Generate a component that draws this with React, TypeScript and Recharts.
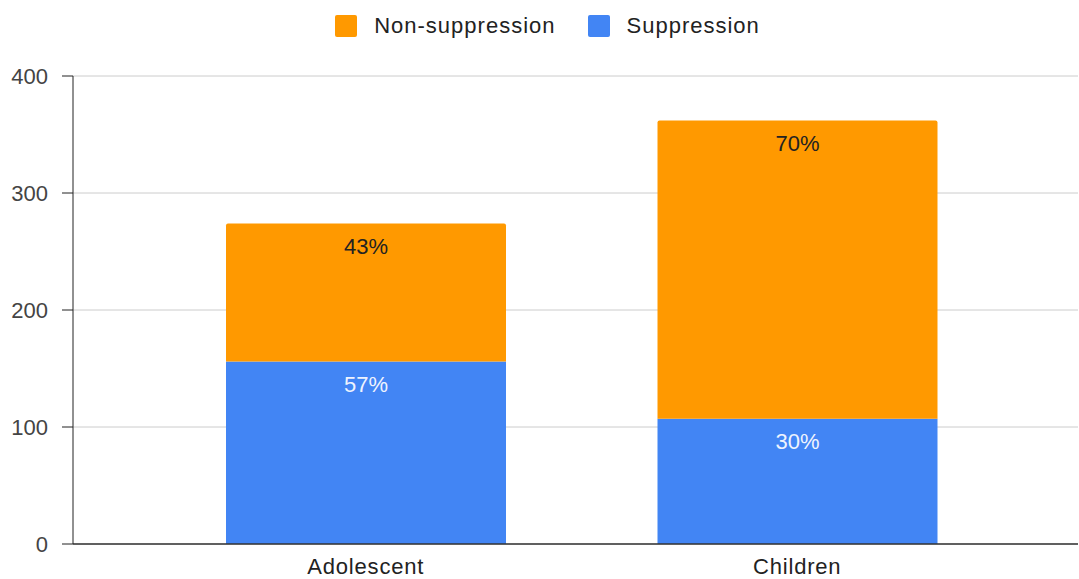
import { BarChart, Bar, XAxis, YAxis, CartesianGrid, Legend, LabelList } from "recharts";

// values
const groups = ["Adolescent", "Children"];
const suppression = [156, 107];
const nonSuppression = [118, 255];
const suppressionPct = ["57%", "30%"];
const nonSuppressionPct = ["43%", "70%"];
const yTicks = [0, 100, 200, 300, 400];

const COLORS = {
  suppression: "#4285f4",
  nonSuppression: "#ff9900",
};

const FONT = "'Liberation Sans', Arial, sans-serif";

const data = groups.map((g, i) => ({
  group: g,
  suppression: suppression[i],
  nonSuppression: nonSuppression[i],
  supLabel: suppressionPct[i],
  nonLabel: nonSuppressionPct[i],
}));

const legendItems = [
  { name: "Non-suppression", color: COLORS.nonSuppression },
  { name: "Suppression", color: COLORS.suppression },
];

function TopLegend() {
  return (
    <div style={{ height: 76, width: 1079 }}>
      <div
        style={{
          display: "flex",
          justifyContent: "center",
          alignItems: "center",
          paddingTop: 14,
          paddingLeft: 16,
          height: 24,
          fontFamily: FONT,
          fontSize: 22,
          letterSpacing: 1,
          color: "#222",
        }}
      >
        {legendItems.map((it, i) => (
          <div
            key={it.name}
            style={{ display: "flex", alignItems: "center", marginLeft: i ? 32 : 0 }}
          >
            <span
              style={{
                width: 22,
                height: 22,
                borderRadius: 2,
                background: it.color,
                marginRight: 17,
                display: "inline-block",
              }}
            />
            <span>{it.name}</span>
          </div>
        ))}
      </div>
    </div>
  );
}

export default function App() {
  return (
    <div style={{ position: "absolute", left: 0, top: 0, background: "#fff" }}>
      <BarChart
        width={1079}
        height={579}
        data={data}
        margin={{ top: 0, right: 1, bottom: 0, left: 0 }}
      >
        <CartesianGrid vertical={false} stroke="#cccccc" />
        <Legend verticalAlign="top" content={() => <TopLegend />} />
        <XAxis
          dataKey="group"
          height={35}
          tickLine={false}
          tickSize={0}
          tickMargin={14}
          padding={{ left: 77, right: 65 }}
          axisLine={{ stroke: "#333", strokeWidth: 1.5 }}
          tick={{ fontSize: 22, fontFamily: FONT, fill: "#222", letterSpacing: 0.8 }}
        />
        <YAxis
          width={73}
          domain={[0, 400]}
          ticks={yTicks}
          tickSize={11}
          tickMargin={14}
          axisLine={{ stroke: "#222" }}
          tickLine={{ stroke: "#222" }}
          tick={{ fontSize: 22, fontFamily: FONT, fill: "#444" }}
        />
        <Bar
          dataKey="suppression"
          stackId="a"
          fill={COLORS.suppression}
          barSize={280}
          isAnimationActive={false}
        >
          <LabelList
            dataKey="supLabel"
            position="insideTop"
            offset={15}
            fill="#eef3fe"
            style={{ fontSize: 22, fontFamily: FONT }}
          />
        </Bar>
        <Bar
          dataKey="nonSuppression"
          stackId="a"
          fill={COLORS.nonSuppression}
          barSize={280}
          radius={[2, 2, 0, 0]}
          isAnimationActive={false}
        >
          <LabelList
            dataKey="nonLabel"
            position="insideTop"
            offset={15}
            fill="#222"
            style={{ fontSize: 22, fontFamily: FONT }}
          />
        </Bar>
      </BarChart>
    </div>
  );
}
